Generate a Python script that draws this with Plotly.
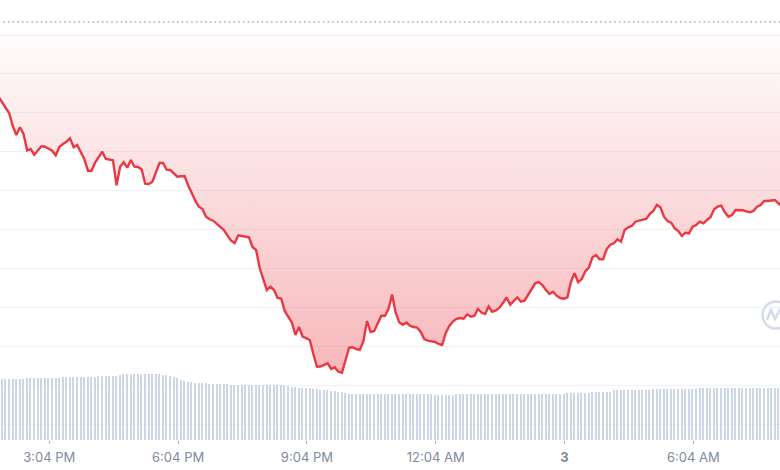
import pandas as pd
import plotly.graph_objects as go

# price index, one reading every 5 minutes
price = [
    288.8, 282.8, 277.2, 272.2, 259.5, 250.5, 258.2, 251.5, 235.2, 236.5,
    230.8, 235.5, 239.2, 238.8, 236.8, 234.8, 230.2, 238.5, 241.5, 243.8,
    247.2, 238.2, 240.5, 233.8, 226.2, 214.8, 214.8, 222.8, 228.5, 233.8,
    226.5, 225.8, 225.2, 200.2, 218.8, 223.2, 217.8, 225.5, 218.8, 218.5,
    216.2, 201.8, 201.5, 203.8, 213.2, 222.5, 222.5, 215.8, 215.5, 212.5,
    208.8, 209.2, 209.5, 200.2, 192.2, 184.8, 178.8, 176.5, 168.8, 166.2,
    164.8, 161.5, 158.8, 155.5, 149.8, 144.8, 142.5, 150.2, 149.5, 149.2,
    148.2, 138.5, 135.5, 117.5, 105.5, 95.5, 98.8, 95.5, 87.5, 87.0,
    74.5, 68.0, 63.0, 50.5, 58.5, 48.8, 47.5, 45.5, 31.5, 18.8,
    19.0, 20.5, 22.2, 16.5, 18.2, 13.8, 12.8, 25.5, 37.8, 38.2,
    36.5, 35.7, 44.5, 64.5, 53.5, 54.5, 62.5, 69.8, 69.8, 76.5,
    91.0, 73.0, 63.2, 60.8, 63.0, 59.8, 58.5, 58.0, 53.5, 46.5,
    44.8, 44.2, 43.5, 41.5, 40.5, 52.5, 59.5, 64.0, 66.7, 67.5,
    66.8, 71.2, 68.8, 69.8, 76.5, 73.0, 71.5, 79.0, 73.8, 75.0,
    77.8, 82.5, 88.0, 80.8, 84.5, 88.0, 83.8, 84.8, 90.5, 96.2,
    102.2, 103.5, 100.5, 95.5, 91.5, 93.8, 89.8, 87.5, 86.8, 88.2,
    103.8, 112.2, 103.2, 106.5, 114.2, 117.8, 128.2, 130.5, 126.2, 126.2,
    136.5, 140.8, 142.2, 146.2, 143.8, 155.5, 158.2, 159.5, 163.8, 164.8,
    165.8, 166.5, 171.5, 174.5, 180.5, 178.2, 168.8, 164.5, 162.8, 157.2,
    154.5, 149.5, 152.8, 152.2, 158.8, 160.5, 163.8, 162.2, 165.5, 168.2,
    176.2, 178.8, 179.8, 173.2, 168.8, 170.5, 175.5, 175.5, 175.2, 174.2,
    173.2, 174.5, 178.8, 180.5, 184.5, 184.5, 184.8, 185.5, 182.2, 178.5,
]

volume = [
    61, 61, 61, 61, 61, 61.5, 61.5, 61.5, 62, 62,
    62, 62.3, 62.3, 62.3, 62.5, 62.5, 62.5, 62.5, 63, 63,
    63, 63, 63.3, 63.3, 63.5, 63.5, 63.5, 63.5, 64, 64,
    64, 64.5, 64.5, 64.5, 65.5, 66, 66, 66, 66, 66,
    66, 65.8, 65.8, 65.8, 65.8, 65.8, 65.5, 65.5, 64.5, 63.5,
    62, 60.5, 59.5, 58.5, 58, 57.5, 57.3, 57, 57, 56.5,
    56.5, 56.3, 56, 56, 55.8, 55.5, 55.5, 55.3, 55.3, 55,
    55, 54.8, 54.8, 54.7, 54.7, 54.7, 54.7, 54.7, 54.7, 54.7,
    54.7, 54, 53.5, 53, 52.5, 52.3, 52, 52, 51.5, 50.7,
    50.5, 50, 50, 49.5, 49, 48.5, 48, 47, 46.5, 46,
    46, 46, 46, 46, 46, 46, 46, 46, 46, 46,
    46, 46, 46, 46, 46, 46, 46, 46, 46, 46,
    46, 46, 45.2, 45.2, 45.2, 45.2, 45.2, 45.2, 45.7, 45.7,
    45.7, 45.7, 45.7, 45.7, 45.7, 45.7, 45.7, 45.7, 45.7, 45.7,
    45.7, 45.7, 45.7, 45.7, 45.7, 45.7, 45.7, 45.7, 45.7, 45.7,
    45.7, 45.7, 45.7, 45.7, 45.7, 45.7, 45.7, 45.7, 45.7, 46.7,
    46.7, 46.7, 46.7, 46.7, 46.7, 46.7, 48.3, 48.3, 48.3, 48.3,
    48.3, 48.3, 50.3, 50.3, 50.3, 50.3, 50.3, 50.3, 50.3, 50.3,
    50.3, 50.3, 50.3, 51.3, 51.3, 51.3, 51.3, 51.3, 51.3, 51.3,
    51.3, 51.3, 51.3, 51.3, 51.3, 51.3, 52.3, 52.3, 52.3, 52.3,
    52.3, 52.3, 52.3, 52.3, 52.3, 52.3, 52.3, 52.3, 52.3, 52.3,
    52.3, 52.3, 52.3, 52.3, 52.3, 52.3, 52.3, 52.3, 52.3, 52.3,
]

open_price = 363.5
grid_values = [-39, 0, 39, 78, 117, 156, 195, 234, 273, 312, 350]
tick_times = ["2024-01-02 15:04", "2024-01-02 18:04", "2024-01-02 21:04",
              "2024-01-03 00:04", "2024-01-03 03:04", "2024-01-03 06:04"]
tick_labels = ["3:04 PM", "6:04 PM", "9:04 PM", "12:04 AM", "<b>3</b>", "6:04 AM"]

times = pd.date_range("2024-01-02 13:53", periods=len(price), freq="5min")

RED = "#ea3943"
GREY = "#808a9d"
WIDTH, PLOT_H = 780, 440


def px(x):
    return x / WIDTH


def py(y):
    return (PLOT_H - y) / PLOT_H


fig = go.Figure()

# volume bars sit on their own axis underneath the price
fig.add_trace(go.Bar(
    x=times, y=volume, yaxis="y2",
    marker=dict(color="#cdd6e6", line_width=0),
    width=125000,
))

# dotted open price, the red fill hangs from it
fig.add_trace(go.Scatter(
    x=times, y=[open_price] * len(times), mode="lines",
    line=dict(color="#a4a9b2", width=1.5, dash="1.5px,3.2px"),
))

fig.add_trace(go.Scatter(
    x=times, y=price, mode="lines",
    line=dict(color=RED, width=2.4),
    fill="tonexty",
    fillgradient=dict(
        type="vertical",
        colorscale=[[0, "rgba(234,57,67,0.36)"], [1, "rgba(234,57,67,0)"]],
    ),
))

# watermark logo, cut off by the right edge
logo = dict(width=2.5, color="#d5dce8")
fig.add_shape(type="circle", xref="paper", yref="paper",
              x0=px(762.5), x1=px(789.5), y0=py(328.5), y1=py(301.5), line=logo)
fig.add_shape(type="path", xref="paper", yref="paper",
              path=f"M {px(767)} {py(320)} L {px(771)} {py(310)} L {px(775)} {py(319)} "
                   f"L {px(780)} {py(309)}",
              line=logo)

fig.update_layout(
    width=780,
    height=470,
    margin=dict(l=0, r=0, t=0, b=30),
    paper_bgcolor="white",
    plot_bgcolor="white",
    showlegend=False,
    bargap=0,
    font=dict(family="Inter, Liberation Sans, sans-serif", size=13, color=GREY),
    xaxis=dict(
        range=["2024-01-02 13:55:06", "2024-01-03 08:05:06"],
        tickvals=tick_times,
        ticktext=tick_labels,
        ticks="outside", ticklen=3, tickwidth=1, tickcolor="#a6b0c3",
        ticklabelstandoff=2,
        showgrid=False, zeroline=False, showline=False,
        tickfont=dict(size=13, color=GREY),
    ),
    yaxis=dict(
        range=[-54.5, 385.5],
        tickvals=grid_values,
        showticklabels=False,
        gridcolor="#eff2f5", gridwidth=1,
        zeroline=False, showline=False,
    ),
    yaxis2=dict(
        range=[0, 440],
        overlaying="y",
        visible=False,
    ),
)

# the page's default body margin would push the chart off by 8px
fig.write_html("out.html", post_script="document.body.style.margin = '0';",
               config=dict(displayModeBar=False))
